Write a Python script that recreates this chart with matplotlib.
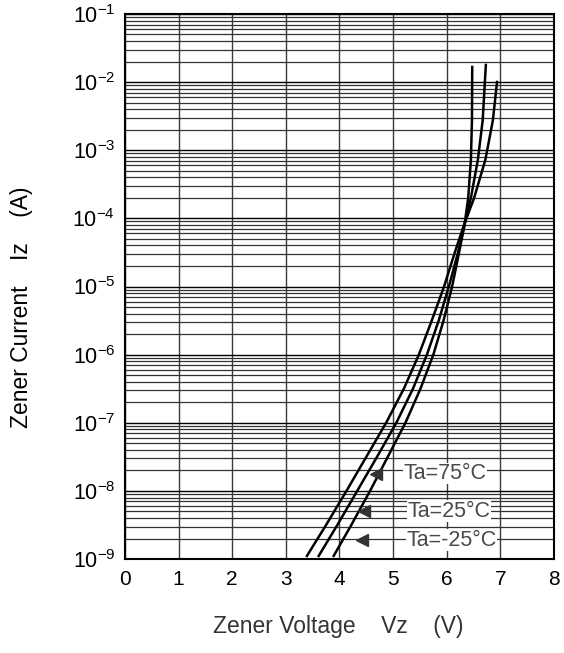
import numpy as np
import matplotlib
matplotlib.use("Agg")
import matplotlib.pyplot as plt
from matplotlib.ticker import LogLocator, FixedLocator

plt.rcParams['font.family'] = ['Liberation Sans', 'DejaVu Sans']

# Vz (V) and log10(Iz / A)
lg_pts = [-8.97, -8.5, -8.0, -7.5, -7.0, -6.5, -6.0, -5.5, -5.0, -4.5, -4.1, -3.7, -3.14, -2.56]

vz_75 = [3.38, 3.75, 4.13, 4.50, 4.87, 5.20, 5.48, 5.72, 5.95, 6.15, 6.32, 6.51, 6.72, 6.86, 6.94]
lg_75 = lg_pts + [-1.98]

vz_25 = [3.60, 3.96, 4.33, 4.70, 5.06, 5.37, 5.63, 5.85, 6.04, 6.21, 6.33, 6.45, 6.58, 6.67, 6.73]
lg_25 = lg_pts + [-1.73]

vz_m25 = [3.88, 4.22, 4.57, 4.90, 5.23, 5.51, 5.75, 5.94, 6.10, 6.23, 6.33, 6.40, 6.45, 6.47, 6.475]
lg_m25 = lg_pts + [-1.76]

labels = ['Ta=75°C', 'Ta=25°C', 'Ta=-25°C']
# label anchor (V, A) and arrow head (V, A)
label_pos = [(5.20, 1.8e-8), (5.27, 5.0e-9), (5.25, 1.9e-9)]
arrow_pos = [(4.68, 1.8e-8), (4.45, 5.0e-9), (4.42, 1.9e-9)]

fig = plt.figure(figsize=(5.64, 6.53), dpi=100)
ax = fig.add_axes([0.2216, 0.1439, 0.7607, 0.8347])

ax.set_yscale('log')
ax.set_xlim(0, 8)
ax.set_ylim(1e-9, 1e-1)

# grid
ax.yaxis.set_major_locator(LogLocator(base=10, numticks=20))
ax.yaxis.set_minor_locator(LogLocator(base=10, subs=np.arange(2, 10), numticks=20))
ax.xaxis.set_major_locator(FixedLocator(range(0, 9)))
ax.grid(True, which='major', axis='y', color='black', lw=1.0)
ax.grid(True, which='minor', axis='y', color='#333333', lw=0.9)
ax.grid(True, which='major', axis='x', color='#3a3a3a', lw=1.0)
ax.set_axisbelow(True)

for v, lg in [(vz_75, lg_75), (vz_25, lg_25), (vz_m25, lg_m25)]:
    ax.plot(v, 10.0 ** np.array(lg), color='black', lw=1.8, zorder=3,
            solid_joinstyle='round', solid_capstyle='butt')

for txt, (tx, ty), (hx, hy) in zip(labels, label_pos, arrow_pos):
    ax.text(tx, ty, txt, fontsize=15.5, color='#4a4a4a', va='center', ha='left',
            bbox=dict(facecolor='white', edgecolor='none', pad=0.3), zorder=4)
    ax.plot([hx], [hy], marker='<', color='#333333', ms=9, zorder=4)

ax.tick_params(which='both', length=0)
ax.tick_params(axis='x', labelsize=15, pad=8)
ax.tick_params(axis='y', labelsize=15.5, pad=7)
for s in ax.spines.values():
    s.set_linewidth(1.5)
    s.set_zorder(5)

fig.text(0.60, 0.023, 'Zener Voltage    Vz    (V)', fontsize=16.5, color='#333333',
         ha='center', va='bottom')
fig.text(0.018, 0.53, 'Zener Current    Iz    (A)', fontsize=16.5, color='black',
         rotation=90, ha='left', va='center')

fig.savefig('out.png', dpi=100)
